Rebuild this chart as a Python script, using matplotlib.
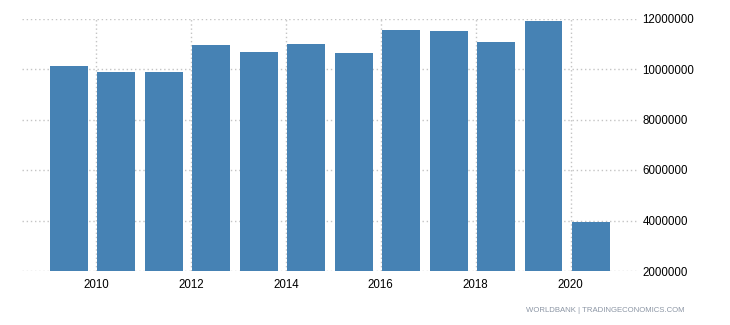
import matplotlib.pyplot as plt
import numpy as np

# data
years = [2009, 2010, 2011, 2012, 2013, 2014, 2015, 2016, 2017, 2018, 2019, 2020]
values = [10120000, 9880000, 9880000, 10950000, 10670000, 10990000,
          10630000, 11540000, 11500000, 11070000, 11900000, 3940000]
xticks = [2010, 2012, 2014, 2016, 2018, 2020]
yticks = [2000000, 4000000, 6000000, 8000000, 10000000, 12000000]

plt.rcParams['font.family'] = ['Liberation Sans', 'DejaVu Sans']

fig = plt.figure(figsize=(7.3, 3.25), dpi=100)
ax = fig.add_axes([22/730, 1 - 271/325, (637 - 22)/730, (271 - 18.5)/325])

x = np.array(years) + 0.43
ax.bar(x, values, width=0.8, color='#4682b4', zorder=2)

ax.set_xlim(2008.44, 2021.40)
ax.set_ylim(2000000, 12000000)
ax.set_xticks(xticks)
ax.set_xticklabels([str(t) for t in xticks])
ax.set_yticks(yticks)
ax.set_yticklabels([str(t) for t in yticks])

ax.yaxis.tick_right()
ax.tick_params(axis='both', length=0, labelsize=8.3, colors='black')
ax.tick_params(axis='y', pad=4)
ax.tick_params(axis='x', pad=6)

ax.grid(True, color='#c4c4c4', linestyle=(0, (1, 2)), linewidth=1.0, zorder=0)
for s in ax.spines.values():
    s.set_visible(False)

fig.text(685/730, 1 - 311/325, 'WORLDBANK | TRADINGECONOMICS.COM',
         ha='right', va='center', fontsize=5.6, color='#8c96a5')

fig.savefig('out.png', dpi=100)
